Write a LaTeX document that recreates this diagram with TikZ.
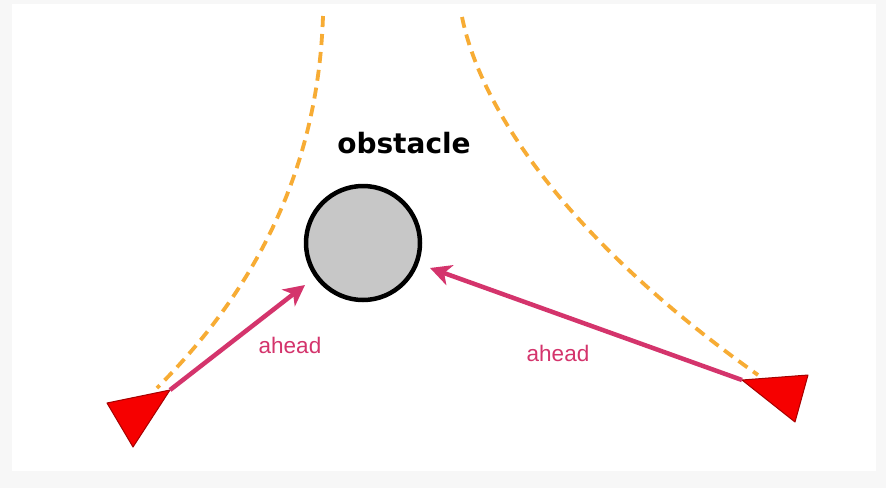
\documentclass[tikz,border=0pt]{standalone}
\usepackage{fontspec}
\newfontfamily\boldsans{DejaVu Sans}
\newfontfamily\plainsans{Liberation Sans}
\usetikzlibrary{arrows.meta}
\definecolor{aheadpink}{RGB}{212,52,108}
\definecolor{trackorange}{RGB}{247,172,52}
\definecolor{robotred}{RGB}{246,0,0}

\begin{document}
\begin{tikzpicture}[x=1pt,y=-1pt,line join=round,
  obstacle/.style={circle,draw=black,line width=4.5pt,fill=black!22,minimum size=114pt,inner sep=0pt},
  robot/.style={draw=red!65!black,line width=1pt,fill=robotred},
  track/.style={draw=trackorange,line width=3.8pt,dash pattern=on 11pt off 7pt},
  heading/.style={draw=aheadpink,line width=4.5pt,-{Stealth[length=21pt,width=21pt,inset=6pt]}},
  headtext/.style={text=aheadpink,font=\plainsans\fontsize{22.5}{26}\selectfont},
  title/.style={font=\boldsans\bfseries\fontsize{28}{33}\selectfont}]

% Faint screenshot frame.
\fill[black!3] (0,0) rectangle (886,488);
\fill[white] (12,4) rectangle (876,471);
\useasboundingbox (0,0) rectangle (886,488);

% Obstacle and its caption.
\node[obstacle] (obs) at (363,243) {};
\node[title] (obstext) at (404,143) {obstacle};

% Two robots, drawn as triangles.
\coordinate (lfront) at (170,390);
\coordinate (rfront) at (742,380);
\fill[robot] (107,403) -- (lfront) -- (133,447) -- cycle;
\fill[robot] (rfront) -- (808,375) -- (795,422) -- cycle;

% Paths the robots follow around the obstacle.
\coordinate (ltrack) at (323,16);
\coordinate (lend) at (157,388);
\coordinate (rtrack) at (462,17);
\coordinate (rend) at (758,375);
\draw[track] (ltrack) .. controls (318,170) and (255,290) .. (lend);
\draw[track] (rtrack) .. controls (482,115) and (575,245) .. (rend);

% Look-ahead vectors.
\coordinate (ltip) at (305,285);
\coordinate (rtip) at (430,268);
\draw[heading] (lfront) -- (ltip);
\draw[heading] (rfront) -- (rtip);
\node[headtext] (lahead) at (290,345) {ahead};
\node[headtext] (rahead) at (558,353) {ahead};
\end{tikzpicture}
\end{document}
